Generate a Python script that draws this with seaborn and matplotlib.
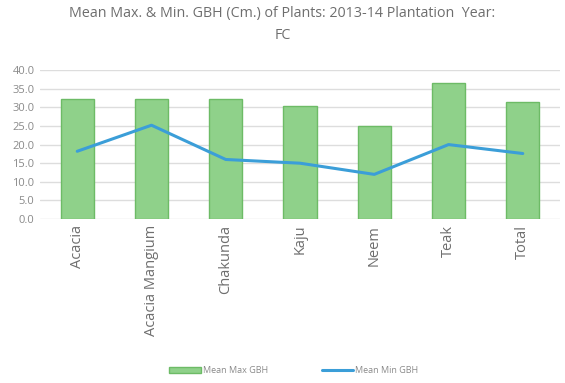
import matplotlib
matplotlib.use("Agg")
import matplotlib.pyplot as plt
import seaborn as sns
import pandas as pd

categories = ["Acacia", "Acacia Mangium", "Chakunda", "Kaju", "Neem", "Teak", "Total"]
mean_max = [32.2, 32.2, 32.3, 30.3, 24.9, 36.4, 31.4]
mean_min = [18.2, 25.2, 16.0, 15.0, 12.0, 20.0, 17.6]
yticks = [0, 5, 10, 15, 20, 25, 30, 35, 40]

df = pd.DataFrame({"cat": categories, "max": mean_max, "min": mean_min})

sns.set_style("white")
plt.rcParams['font.family'] = ['Open Sans', 'DejaVu Sans']

fig = plt.figure(figsize=(5.65, 3.83), dpi=100)
ax = fig.add_axes([0.071, 0.428, 0.92, 0.389])

sns.barplot(data=df, x="cat", y="max", ax=ax, color="#8fd18a", width=0.45,
            edgecolor="#6dbb66", linewidth=1.0, saturation=1, label="Mean Max GBH")
sns.lineplot(data=df, x="cat", y="min", ax=ax, color="#3b9ed8", linewidth=2.2,
             label="Mean Min GBH", sort=False)

ax.set_ylim(0, 40)
ax.set_yticks(yticks)
ax.set_yticklabels([f"{v:.1f}" for v in yticks], color="#8a8a8a", fontsize=8)
ax.set_xlim(-0.5, 6.5)
ax.set_xticks(range(len(categories)))
ax.set_xticklabels(categories, rotation=90, color="#6e6e6e", fontsize=10.5)
ax.set_xlabel("")
ax.set_ylabel("")
ax.grid(axis="y", color="#dddddd", linewidth=1)
ax.set_axisbelow(True)
for s in ax.spines.values():
    s.set_visible(False)
ax.tick_params(length=0, pad=4)

ax.legend_.remove()
handles, labels = ax.get_legend_handles_labels()
order = [labels.index("Mean Max GBH"), labels.index("Mean Min GBH")]
fig.legend([handles[i] for i in order], [labels[i] for i in order],
           loc="lower center", bbox_to_anchor=(0.52, 0.0), ncol=2,
           frameon=False, fontsize=6.5, labelcolor="#8a8a8a", columnspacing=6,
           handlelength=3.5, handletextpad=0.2)

fig.suptitle("Mean Max. & Min. GBH (Cm.) of Plants: 2013-14 Plantation  Year:\nFC",
             color="#6e6e6e", fontsize=10.3, y=0.985, linespacing=1.7)

fig.savefig("out.png", dpi=100, facecolor="white")
